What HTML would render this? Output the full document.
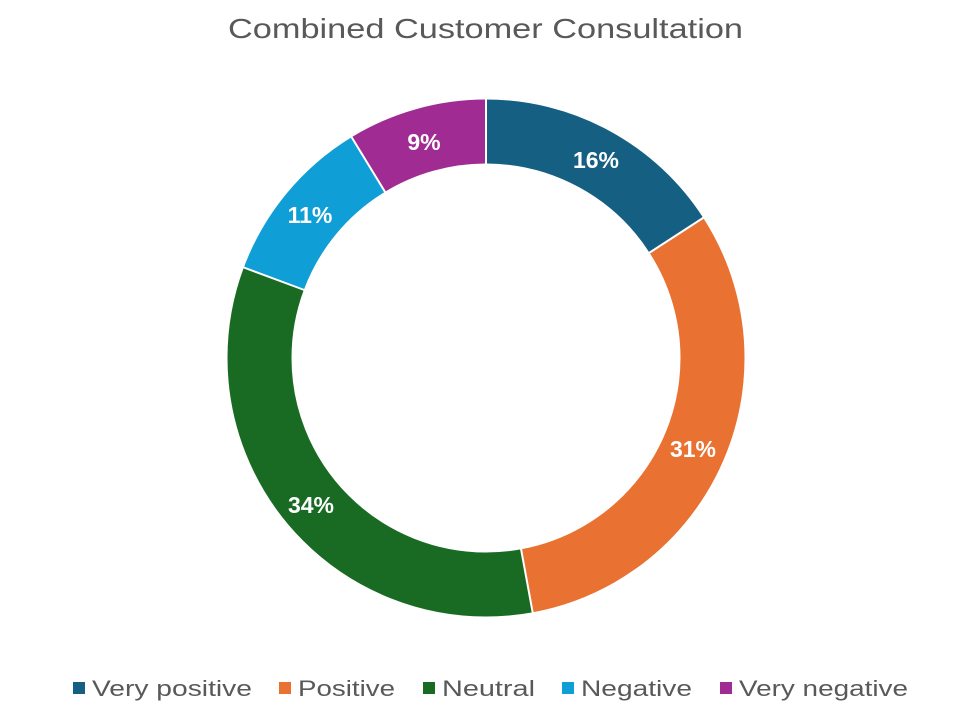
<!DOCTYPE html>
<html><head><meta charset="utf-8"><style>
html,body{margin:0;padding:0;background:#fff;}
body{width:967px;height:711px;overflow:hidden;}
</style></head><body>
<svg width="967" height="711" viewBox="0 0 967 711" xmlns="http://www.w3.org/2000/svg" font-family="Liberation Sans, sans-serif">
<text x="228" y="38" font-size="28" fill="#595959" textLength="515" lengthAdjust="spacingAndGlyphs">Combined Customer Consultation</text>
<g transform="rotate(-90 486 358)" fill="none" stroke-width="64">
<circle cx="486" cy="358" r="226.5" pathLength="100" stroke="#156082" stroke-dasharray="15.9 84.1" stroke-dashoffset="0"/>
<circle cx="486" cy="358" r="226.5" pathLength="100" stroke="#E97132" stroke-dasharray="31.2 68.8" stroke-dashoffset="-15.9"/>
<circle cx="486" cy="358" r="226.5" pathLength="100" stroke="#196B24" stroke-dasharray="33.6 66.4" stroke-dashoffset="-47.1"/>
<circle cx="486" cy="358" r="226.5" pathLength="100" stroke="#0F9ED5" stroke-dasharray="10.6 89.4" stroke-dashoffset="-80.7"/>
<circle cx="486" cy="358" r="226.5" pathLength="100" stroke="#A02B93" stroke-dasharray="8.7 91.3" stroke-dashoffset="-91.3"/>
</g>
<g stroke="#fff" stroke-width="2">
<line x1="486" y1="165" x2="486" y2="98"/>
<line x1="649" y1="253" x2="704.5" y2="217"/>
<line x1="521" y1="548.8" x2="532.9" y2="613.7"/>
<line x1="304.3" y1="290" x2="242.5" y2="267"/>
<line x1="385.2" y1="192.2" x2="350.9" y2="136"/>
</g>
<g fill="#fff" font-size="23" font-weight="bold" text-anchor="middle">
<text x="596" y="168">16%</text>
<text x="693" y="457">31%</text>
<text x="311" y="513">34%</text>
<text x="310" y="223">11%</text>
<text x="424" y="150">9%</text>
</g>
<g font-size="22" fill="#595959" lengthAdjust="spacingAndGlyphs">
<rect x="73" y="682" width="12" height="12" fill="#156082"/><text x="92" y="696" textLength="160" lengthAdjust="spacingAndGlyphs">Very positive</text>
<rect x="279" y="682" width="12" height="12" fill="#E97132"/><text x="298" y="696" textLength="97" lengthAdjust="spacingAndGlyphs">Positive</text>
<rect x="423" y="682" width="12" height="12" fill="#196B24"/><text x="442" y="696" textLength="93" lengthAdjust="spacingAndGlyphs">Neutral</text>
<rect x="562" y="682" width="12" height="12" fill="#0F9ED5"/><text x="581" y="696" textLength="111" lengthAdjust="spacingAndGlyphs">Negative</text>
<rect x="720" y="682" width="12" height="12" fill="#A02B93"/><text x="739" y="696" textLength="169" lengthAdjust="spacingAndGlyphs">Very negative</text>
</g>
</svg>
</body></html>
